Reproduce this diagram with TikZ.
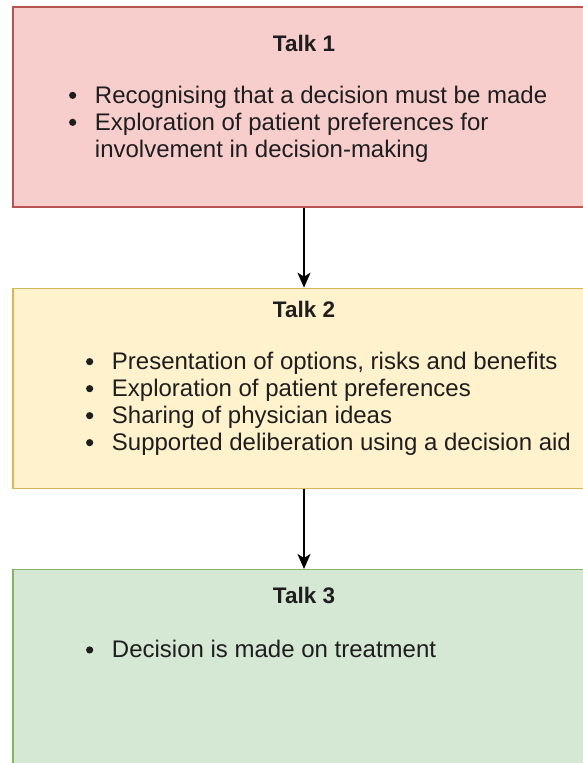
\documentclass[tikz,border=0pt]{standalone}
\usepackage{fontspec}
\setmainfont{Liberation Sans}
\usepackage{xcolor}
\usetikzlibrary{positioning,arrows.meta}

\definecolor{redfill}{HTML}{F8CECC}
\definecolor{redline}{HTML}{B85450}
\definecolor{yellowfill}{HTML}{FFF2CC}
\definecolor{yellowline}{HTML}{D6B656}
\definecolor{greenfill}{HTML}{D5E8D4}
\definecolor{greenline}{HTML}{82B366}
\definecolor{textgray}{HTML}{1E1E1E}

% list bullet
\newcommand{\itemdot}{\tikz[baseline=0pt] \fill[textgray] (3.6pt,8pt) circle[radius=3.6pt];}

\tikzset{
    talkbox/.style={draw, line width=1.3pt, rectangle, minimum width=582pt, minimum height=200pt, inner sep=0pt},
    talktitle/.style={anchor=base, inner sep=0pt, text=textgray, font=\fontsize{22.5}{27}\selectfont\bfseries},
    talklist/.style={anchor=base west, inner sep=0pt, text=textgray, font=\fontsize{24}{27}\selectfont},
    flow/.style={-{Stealth[length=15pt, width=13pt, inset=4pt]}, line width=1.3pt}
}

\begin{document}
\begin{tikzpicture}[x=1pt, y=-1pt]
    \useasboundingbox (0,0) rectangle (583,763);
    \clip (0,0) rectangle (583,763);

    \node [talkbox, draw=redline, fill=redfill] (box1) at (304,107) {};
    \node [talkbox, draw=yellowline, fill=yellowfill, below=80pt of box1] (box2) {};
    \node [talkbox, draw=greenline, fill=greenfill, below=80pt of box2] (box3) {};

    \node [talktitle] (title1) at ([yshift=-45pt]box1.north) {Talk 1};
    \node [talktitle] (title2) at ([yshift=-30pt]box2.north) {Talk 2};
    \node [talktitle] (title3) at ([yshift=-35pt]box3.north) {Talk 3};

    % bullet lists
    \node [talklist] (list1) at ([xshift=56.5pt, yshift=-97pt]box1.north west) {%
        \begin{tabular}[t]{@{}l@{\hspace{18.7pt}}l@{}}
        \itemdot & Recognising that a decision must be made\\
        \itemdot & Exploration of patient preferences for\\
                 & involvement in decision-making
        \end{tabular}};
    \node [talklist] (list2) at ([xshift=73.5pt, yshift=-82pt]box2.north west) {%
        \begin{tabular}[t]{@{}l@{\hspace{18.7pt}}l@{}}
        \itemdot & Presentation of options, risks and benefits\\
        \itemdot & Exploration of patient preferences\\
        \itemdot & Sharing of physician ideas\\
        \itemdot & Supported deliberation using a decision aid
        \end{tabular}};
    \node [talklist] (list3) at ([xshift=73.5pt, yshift=-89pt]box3.north west) {%
        \begin{tabular}[t]{@{}l@{\hspace{18.7pt}}l@{}}
        \itemdot & Decision is made on treatment
        \end{tabular}};

    \draw [flow] (box1) -- (box2);
    \draw [flow] (box2) -- (box3);
\end{tikzpicture}
\end{document}
